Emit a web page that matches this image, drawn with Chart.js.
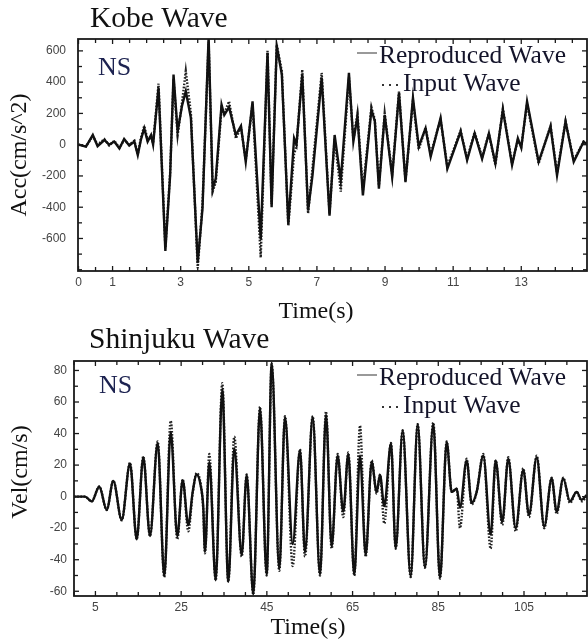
<!DOCTYPE html>
<html><head><meta charset="utf-8">
<script src="https://cdn.jsdelivr.net/npm/chart.js@4.4.0/dist/chart.umd.min.js"></script>
<style>
html,body{margin:0;padding:0;background:#fff;}
#w{position:relative;width:588px;height:641px;overflow:hidden;}
canvas{position:absolute;left:0;}
</style>
</head><body>
<div id="w">
<canvas id="c1" width="588" height="330" style="top:0px;width:588px;height:330px"></canvas>
<canvas id="c2" width="588" height="341" style="top:300px;width:588px;height:341px"></canvas>
</div>
<script>
// ---------- Kobe wave (acceleration) ----------
const kobeTime = [0.00,0.22,0.42,0.56,0.76,0.90,1.05,1.20,1.34,1.49,1.64,1.74,1.83,1.93,2.03,2.13,2.19,2.35,2.55,2.69,2.79,2.91,3.04,3.15,3.30,3.50,3.64,3.82,3.94,4.03,4.20,4.28,4.42,4.62,4.77,4.91,5.11,5.35,5.55,5.67,5.82,5.97,6.16,6.33,6.40,6.57,6.74,6.87,7.14,7.37,7.52,7.70,7.94,8.07,8.19,8.35,8.60,8.70,8.82,8.99,9.21,9.41,9.60,9.82,9.99,10.19,10.34,10.63,10.83,11.22,11.41,11.63,11.85,12.05,12.24,12.46,12.73,12.90,13.00,13.17,13.51,13.86,14.05,14.30,14.54,14.83,14.95];
const kobeReproduced = [0,-13,62,-10,30,0,20,-24,37,-5,20,-67,30,105,20,62,0,363,-680,-196,449,84,250,342,170,-755,-410,690,-282,-217,256,190,240,62,120,-110,277,-604,589,-400,632,449,-508,41,0,449,-421,-196,428,-454,62,-228,460,20,181,-325,224,150,-282,191,-206,331,-239,299,-13,105,-77,170,-153,84,-99,73,-90,73,-120,224,-131,40,-20,277,-110,116,-196,148,-110,19,0];
const kobeInput = [0,-10,55,0,35,-5,25,-20,30,0,25,-60,40,120,30,50,10,390,-660,-180,420,60,270,471,200,-790,-380,660,-300,-240,230,200,277,40,110,-100,260,-722,600,-380,640,470,-520,-60,-10,480,-440,-150,460,-440,40,-300,430,30,200,-290,240,160,-260,200,-190,340,-230,280,-30,110,-60,160,-140,90,-90,80,-80,70,-130,230,-120,30,-10,260,-120,120,-180,150,-100,20,10];
const kobeXTicks = [0,0.5,1,1.5,2,2.5,3,3.5,4,4.5,5,5.5,6,6.5,7,7.5,8,8.5,9,9.5,10,10.5,11,11.5,12,12.5,13,13.5,14,14.5];
const kobeXLabels = [0,1,3,5,7,9,11,13];
const kobeYTicks = [-800,-700,-600,-500,-400,-300,-200,-100,0,100,200,300,400,500,600];
const kobeYLabels = [-600,-400,-200,0,200,400,600];

// ---------- Shinjuku wave (velocity) ----------
const shinTime = [0,2.57,4.13,5.90,7.63,9.17,11.13,13.07,14.63,16.17,17.73,19.53,21.07,22.56,24.10,25.36,26.67,27.69,28.63,29.56,30.17,30.56,31.57,33.06,34.60,36.00,37.40,39.13,40.29,41.83,43.40,44.96,46.13,47.90,49.23,51.03,52.73,53.90,55.69,57.40,58.80,60.12,61.52,62.83,64.00,65.40,66.73,68.06,69.46,70.62,71.40,72.40,73.96,75.06,76.69,78.56,80.19,81.89,83.83,85.40,86.96,88.13,89.30,90.06,91.62,92.79,93.96,95.50,97.22,98.39,99.93,101.33,103.06,104.83,106.16,107.96,109.73,111.45,112.62,114.16,115.72,117.29,118.45,119.6];
const shinReproduced = [0,0,-3,6.3,-8.4,9.9,-14.7,21,-27,25,-25,34,-50.5,41,-25,10.5,-18,3,14,7,-7,-35,22,-53,68,-54,30.5,-37,13.7,-62,56,-49.5,85,-46,50.5,-30,29.5,-35,50.5,-49.5,52,-31.6,26,-9.5,27,-49.5,26,-37,22,3,13.7,-6,33.7,-32.6,42,-50.5,46,-45,46,-51.6,34.7,3,5,-7,23,-4,3,26,-24,23,-16,24,-20,17,-11.6,25,-19,11.6,-9.5,11.6,-3,3,-2,1];
const shinInput = [0,0,-3,6.5,-8.5,10,-15,21.5,-27,25.5,-25,35,-51,48,-27,11,-22,2,15,8,-9,-36,27,-53,72,-54,38,-38,14,-62,57,-50,84,-47,51,-44,30,-38,51,-50,54,-33,27,-13,28,-50,45,-38,23,2,14,-17,34,-33,42,-51,46,-45,47,-52,35,3,5,-20,24,-5,3,27,-33,23,-18,25,-22,18,-13,26,-20,12,-11,12,-4,3,-3,0];
const shinXTicks = [0,5,10,15,20,25,30,35,40,45,50,55,60,65,70,75,80,85,90,95,100,105,110,115];
const shinXLabels = [5,25,45,65,85,105];
const shinYTicks = [-60,-50,-40,-30,-20,-10,0,10,20,30,40,50,60,70,80];
const shinYLabels = [-60,-40,-20,0,20,40,60,80];

const SERIF = "'Liberation Serif','Times New Roman',serif";
const SANS = "'Liberation Sans',Arial,sans-serif";

const frameTicks = {
  id: 'frameTicks',
  afterDatasetsDraw(chart) {
    const {ctx, chartArea: a, scales: {x, y}} = chart;
    ctx.save();
    ctx.strokeStyle = '#1a1a1a';
    const seg = (x1, y1, x2, y2) => { ctx.beginPath(); ctx.moveTo(x1, y1); ctx.lineTo(x2, y2); ctx.stroke(); };
    ctx.lineWidth = 1.3;
    x.ticks.forEach(t => {
      const p = x.getPixelForValue(t.value);
      const L = t.label ? 5 : 4;
      seg(p, a.bottom, p, a.bottom - L);
      seg(p, a.top, p, a.top + L);
    });
    y.ticks.forEach(t => {
      const p = y.getPixelForValue(t.value);
      const L = t.label ? 5 : 4;
      seg(a.left, p, a.left + L, p);
      seg(a.right, p, a.right - L, p);
    });
    ctx.lineWidth = 1.8;
    ctx.strokeRect(a.left, a.top, a.right - a.left, a.bottom - a.top);
    ctx.restore();
  }
};

const decor = {
  id: 'decor',
  afterDraw(chart, args, o) {
    const ctx = chart.ctx;
    ctx.save();
    ctx.fillStyle = '#111';
    ctx.textBaseline = 'alphabetic';
    ctx.textAlign = 'left';
    ctx.font = '29.5px ' + SERIF;
    ctx.fillText(o.title, o.titleX, o.titleY);
    ctx.fillStyle = '#1c2250';
    ctx.font = '26px ' + SERIF;
    ctx.fillText('NS', o.nsX, o.nsY);
    // legend
    ctx.fillStyle = '#14142a';
    ctx.font = '25.5px ' + SERIF;
    ctx.fillText('Reproduced Wave', o.legX, o.legY1);
    ctx.fillText('Input Wave', o.legX + 24, o.legY2);
    ctx.strokeStyle = '#777';
    ctx.lineWidth = 1.5;
    ctx.beginPath(); ctx.moveTo(o.legX - 22, o.legY1 - 10); ctx.lineTo(o.legX - 2, o.legY1 - 10); ctx.stroke();
    ctx.fillStyle = '#333';
    [3, 10, 17].forEach(d => { ctx.fillRect(o.legX + d, o.legY2 - 7, 2, 2); });
    // axis titles
    ctx.fillStyle = '#111';
    ctx.textAlign = 'center';
    ctx.font = '24px ' + SERIF;
    ctx.fillText('Time(s)', o.xtX, o.xtY);
    ctx.translate(o.ytX, o.ytY);
    ctx.rotate(-Math.PI / 2);
    ctx.textBaseline = 'middle';
    ctx.fillText(o.yTitle, 0, 0);
    ctx.restore();
  }
};

function makeChart(id, cfg) {
  const tickFont = {family: SANS, size: 12};
  return new Chart(document.getElementById(id), {
    type: 'line',
    data: {
      datasets: [
        {
          label: 'Reproduced Wave',
          data: cfg.time.map((t, i) => ({x: t, y: cfg.rep[i]})),
          borderColor: '#111', borderWidth: 2.4, pointRadius: 0, fill: false,
          tension: cfg.smooth ? 0.4 : 0, cubicInterpolationMode: cfg.smooth ? 'monotone' : 'default'
        },
        {
          label: 'Input Wave',
          data: cfg.time.map((t, i) => ({x: t, y: cfg.inp[i]})),
          borderColor: '#222', borderWidth: 2.4, borderDash: [1.6, 1.6], pointRadius: 0, fill: false,
          tension: cfg.smooth ? 0.4 : 0, cubicInterpolationMode: cfg.smooth ? 'monotone' : 'default'
        }
      ]
    },
    options: {
      responsive: false, animation: false, devicePixelRatio: 1,
      layout: {padding: cfg.pad},
      plugins: {legend: {display: false}, title: {display: false}, tooltip: {enabled: false}, decor: cfg.decor},
      scales: {
        x: {
          type: 'linear', min: cfg.xmin, max: cfg.xmax,
          grid: {display: false, drawTicks: false}, border: {display: false},
          afterBuildTicks: s => { s.ticks = cfg.xTicks.map(v => ({value: v})); },
          afterFit: s => { s.height = 30; },
          ticks: {autoSkip: false, maxRotation: 0, padding: cfg.xPad, font: tickFont, color: '#444',
            callback: v => cfg.xLabels.includes(v) ? String(v) : ''}
        },
        y: {
          type: 'linear', min: cfg.ymin, max: cfg.ymax,
          grid: {display: false, drawTicks: false}, border: {display: false},
          afterBuildTicks: s => { s.ticks = cfg.yTicks.map(v => ({value: v})); },
          afterFit: s => { s.width = cfg.yWidth; },
          ticks: {autoSkip: false, padding: cfg.yPad, font: tickFont, color: '#444',
            callback: v => cfg.yLabels.includes(v) ? String(v) : ''}
        }
      }
    },
    plugins: [frameTicks, decor]
  });
}

makeChart('c1', {
  time: kobeTime, rep: kobeReproduced, inp: kobeInput, smooth: false,
  xmin: -0.015, xmax: 14.93, ymin: -808, ymax: 676,
  xTicks: kobeXTicks, xLabels: kobeXLabels, yTicks: kobeYTicks, yLabels: kobeYLabels,
  pad: {left: 0, right: 1, top: 39, bottom: 29}, yWidth: 78, xPad: 4, yPad: 12,
  decor: {title: 'Kobe Wave', titleX: 90, titleY: 27, nsX: 98, nsY: 75,
    legX: 379, legY1: 63, legY2: 91, xtX: 316, xtY: 318, ytX: 20, ytY: 155, yTitle: 'Acc(cm/s^2)'}
});

makeChart('c2', {
  time: shinTime, rep: shinReproduced, inp: shinInput, smooth: true,
  xmin: 0, xmax: 119.7, ymin: -63, ymax: 86,
  xTicks: shinXTicks, xLabels: shinXLabels, yTicks: shinYTicks, yLabels: shinYLabels,
  pad: {left: 0, right: 1, top: 61, bottom: 15}, yWidth: 74, xPad: 4, yPad: 7,
  decor: {title: 'Shinjuku Wave', titleX: 89, titleY: 48, nsX: 99, nsY: 93,
    legX: 379, legY1: 85, legY2: 113, xtX: 308, xtY: 334, ytX: 21, ytY: 172, yTitle: 'Vel(cm/s)'}
});
</script>
</body></html>
